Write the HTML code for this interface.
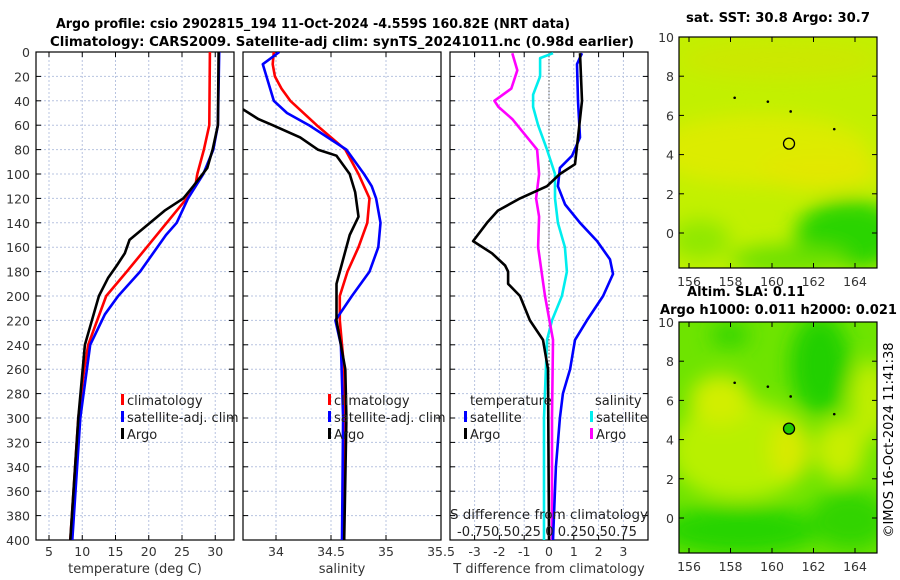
<!DOCTYPE html>
<html><head><meta charset="utf-8">
<style>
body{margin:0;background:#fff;}
svg{display:block;font-family:"DejaVu Sans","Liberation Sans",sans-serif;}
</style></head>
<body>
<svg id="c" width="900" height="580" viewBox="0 0 900 580" xmlns="http://www.w3.org/2000/svg">
<defs>
<filter id="blur" x="-50%" y="-50%" width="200%" height="200%"><feGaussianBlur stdDeviation="10"/></filter>
<clipPath id="m1c"><rect x="679" y="37" width="198" height="231"/></clipPath>
<clipPath id="m2c"><rect x="679" y="322" width="198" height="231"/></clipPath>
<clipPath id="p1c"><rect x="36" y="52" width="198" height="488"/></clipPath>
<clipPath id="p2c"><rect x="243" y="52" width="198" height="488"/></clipPath>
<clipPath id="p3c"><rect x="450" y="52" width="198" height="488"/></clipPath>
</defs>
<g font-weight="bold" font-size="13" text-anchor="start">
<text x="56" y="28" textLength="514" lengthAdjust="spacingAndGlyphs">Argo profile: csio 2902815_194 11-Oct-2024 -4.559S 160.82E (NRT data)</text>
<text x="50" y="46" textLength="584" lengthAdjust="spacingAndGlyphs">Climatology: CARS2009. Satellite-adj clim: synTS_20241011.nc (0.98d earlier)</text>
</g>
<g id="plots"></g>
<g id="maps">
<g clip-path="url(#m1c)">
<rect x="679" y="37" width="198" height="231" fill="#c2f000"/>
<g filter="url(#blur)">
<ellipse cx="760" cy="150" rx="110" ry="35" fill="#dcec00"/>
<ellipse cx="820" cy="170" rx="60" ry="20" fill="#e2e800"/>
<ellipse cx="850" cy="235" rx="55" ry="35" fill="#2cd400"/>
<ellipse cx="790" cy="260" rx="60" ry="15" fill="#6ce000"/>
<ellipse cx="700" cy="240" rx="30" ry="20" fill="#90e800"/>
<ellipse cx="780" cy="60" rx="100" ry="18" fill="#cce800"/>
</g>
</g>
<g clip-path="url(#m2c)">
<rect x="679" y="322" width="198" height="231" fill="#6ee400"/>
<g filter="url(#blur)">
<ellipse cx="740" cy="450" rx="70" ry="50" fill="#b8f000"/>
<ellipse cx="720" cy="400" rx="30" ry="25" fill="#d2ee00"/>
<ellipse cx="790" cy="450" rx="20" ry="30" fill="#d8ea00"/>
<ellipse cx="840" cy="450" rx="25" ry="30" fill="#c8ee00"/>
<ellipse cx="870" cy="400" rx="20" ry="40" fill="#c0ee00"/>
<ellipse cx="820" cy="365" rx="30" ry="50" fill="#20d000"/>
<ellipse cx="740" cy="530" rx="80" ry="25" fill="#28d400"/>
<ellipse cx="850" cy="520" rx="40" ry="30" fill="#30d400"/>
<ellipse cx="730" cy="335" rx="20" ry="12" fill="#30d400"/>
</g>
</g>
</g>
<g id="mapaxes"></g>
<g font-weight="bold" font-size="13" text-anchor="start">
<text x="686" y="22" textLength="184" lengthAdjust="spacingAndGlyphs">sat. SST: 30.8 Argo: 30.7</text>
<text x="687" y="296" textLength="118" lengthAdjust="spacingAndGlyphs">Altim. SLA: 0.11</text>
<text x="660" y="314" textLength="237" lengthAdjust="spacingAndGlyphs">Argo h1000: 0.011 h2000: 0.021</text>
</g>
<text x="893" y="440" font-size="13" text-anchor="middle" transform="rotate(-90 893 440)">©IMOS 16-Oct-2024 11:41:38</text>
</svg>
<script>
// ---- data ----
const depthTicks=[0,20,40,60,80,100,120,140,160,180,200,220,240,260,280,300,320,340,360,380,400];
const tTicks=[5,10,15,20,25,30];
const sTicks=[34,34.5,35,35.5];
const sTickLabels=["34","34.5","35","35.5"];
const dTicks=[-3,-2,-1,0,1,2,3];
const climTDepth=[0,60,80,100,110,120,140,160,180,200,240,260,300,400];
const climT=[29.2,29.1,28.3,27.3,27.0,25.7,22.7,19.7,16.7,13.6,10.9,10.3,9.4,8.2];
const satTDepth=[0,60,80,100,120,140,150,180,200,215,240,300,400];
const satT=[30.6,30.4,29.7,28.2,25.9,24.2,22.6,18.7,15.4,13.4,11.2,9.7,8.5];
const argoTDepth=[0,60,80,95,110,120,130,140,154,165,175,185,200,240,300,400];
const argoT=[30.5,30.4,29.6,28.8,26.7,25.2,22.4,20.2,17.1,16.4,15.2,13.9,12.5,10.4,9.4,8.2];
const climSDepth=[0,10,20,30,40,60,80,100,120,140,160,180,200,220,260,300,400];
const climS=[33.98,33.97,33.99,34.05,34.13,34.37,34.63,34.75,34.85,34.83,34.75,34.65,34.58,34.58,34.62,34.63,34.61];
const satSDepth=[0,10,40,50,60,80,100,110,120,140,160,180,200,220,240,300,400];
const satS=[34.03,33.88,33.98,34.1,34.3,34.64,34.8,34.87,34.91,34.95,34.93,34.85,34.69,34.54,34.59,34.61,34.6];
const argoSDepth=[47,55,60,70,80,85,100,115,135,150,180,190,200,220,260,300,400];
const argoS=[33.7,33.84,33.97,34.22,34.38,34.55,34.67,34.72,34.75,34.67,34.58,34.55,34.55,34.55,34.63,34.64,34.62];
const dSArgoDepth=[1,15,30,40,45,55,80,100,120,135,160,200,236,300,400];
const dSArgo=[-0.37,-0.32,-0.38,-0.55,-0.51,-0.37,-0.12,-0.10,-0.13,-0.10,-0.11,-0.04,0.04,0.03,0.03];
const dSSatDepth=[1,5,20,35,45,60,80,100,120,140,160,180,200,220,236,300,400];
const dSSat=[0.04,-0.09,-0.09,-0.16,-0.16,-0.11,-0.02,0.06,0.06,0.09,0.16,0.18,0.13,0.03,-0.02,-0.05,-0.05];
const dTSatDepth=[1,10,40,70,85,95,110,125,140,155,170,182,200,220,236,260,280,300,340,400];
const dTSat=[1.33,1.13,1.17,1.25,0.93,0.44,0.36,0.65,1.25,1.94,2.46,2.58,2.18,1.53,1.05,0.85,0.56,0.44,0.28,0.16];
const dTArgoDepth=[1,40,70,92,100,110,120,130,140,155,165,175,180,190,200,220,236,260,400];
const dTArgo=[1.25,1.33,1.17,1.05,0.44,-0.08,-1.17,-2.06,-2.5,-3.06,-2.3,-1.77,-1.65,-1.65,-1.17,-0.77,-0.24,-0.04,0];
const lonTicks=[156,158,160,162,164];
const latTicks=[0,2,4,6,8,10];
const argoLon=[160.82], argoLat=[4.56];
// ---- scales ----
const NS="http://www.w3.org/2000/svg";
const TOP=52,BOT=540;
const yD=d=>TOP+d*1.22;
const xT=v=>49+(v-5)*6.65;
const xS=v=>276+(v-34)*110;
const xDT=v=>549+v*24.8;
const xDS=v=>549+v/0.25*24.8;
const mx=l=>689+(l-156)*20.75;
const my1=l=>233-l*19.6, my2=l=>518-l*19.6;
function el(tag,attrs,parent,text){const e=document.createElementNS(NS,tag);for(const k in attrs)e.setAttribute(k,attrs[k]);if(text!==undefined)e.textContent=text;parent.appendChild(e);return e;}
const plots=document.getElementById('plots');
const panels=[{x:36,ticks:tTicks,labels:tTicks.map(String),fx:xT,xl:'temperature (deg C)',name:'temperature-panel'},
{x:243,ticks:sTicks,labels:sTickLabels,fx:xS,xl:'salinity',name:'salinity-panel'},
{x:450,ticks:dTicks,labels:dTicks.map(String),fx:xDT,xl:'T difference from climatology',name:'difference-panel'}];
panels.forEach((p,i)=>{
 const g=el('g',{},plots);
 
 
 depthTicks.forEach(d=>{
  const l=el('line',{x1:p.x,x2:p.x+198,y1:yD(d),y2:yD(d),stroke:'#b8c4e0','stroke-dasharray':'2,2','stroke-width':1},g);
  
  
  el('line',{x1:p.x,x2:p.x+5,y1:yD(d),y2:yD(d),stroke:'#000'},g);
  el('line',{x1:p.x+193,x2:p.x+198,y1:yD(d),y2:yD(d),stroke:'#000'},g);
 });
 p.ticks.forEach((t,k)=>{
  const x=p.fx(t);
  if(x<p.x+197){const l=el('line',{x1:x,x2:x,y1:TOP,y2:BOT,stroke:'#b8c4e0','stroke-dasharray':'2,2'},g);
  
  
  el('line',{x1:x,x2:x,y1:BOT,y2:BOT-5,stroke:'#000'},g);el('line',{x1:x,x2:x,y1:TOP,y2:TOP+5,stroke:'#000'},g);}
  const tx=el('text',{x:x,y:556,'font-size':12.5,'text-anchor':'middle',fill:'#333'},g,p.labels[k]);
  
  
 });
 const xl=el('text',{x:p.x+99,y:573,'font-size':13,'text-anchor':'middle',fill:'#333'},g,p.xl);
 
 
 el('rect',{x:p.x,y:TOP,width:198,height:BOT-TOP,fill:'none',stroke:'#000','stroke-width':1.2},g);
});
depthTicks.forEach(d=>{
 const t=el('text',{x:30,y:yD(d)+5,'font-size':12.5,'text-anchor':'end',fill:'#333'},plots,String(d));
 
 
});
function line(depths,vals,fx,color,clip,name){
 const pts=depths.map((d,i)=>fx(vals[i]).toFixed(1)+','+yD(d).toFixed(1)).join(' ');
 const pl=el('polyline',{points:pts,fill:'none',stroke:color,'stroke-width':2.6,'stroke-linejoin':'round','clip-path':'url(#'+clip+')'},plots);
 
 
}
el('line',{x1:549,x2:549,y1:TOP,y2:BOT,stroke:'#555','stroke-dasharray':'1.5,2','stroke-width':1},plots);
line(climTDepth,climT,xT,'#ff0000','p1c','climatology-temperature-line');
line(satTDepth,satT,xT,'#0000ff','p1c','satellite-temperature-line');
line(argoTDepth,argoT,xT,'#000','p1c','argo-temperature-line');
line(climSDepth,climS,xS,'#ff0000','p2c','climatology-salinity-line');
line(satSDepth,satS,xS,'#0000ff','p2c','satellite-salinity-line');
line(argoSDepth,argoS,xS,'#000','p2c','argo-salinity-line');
line(dSSatDepth,dSSat,xDS,'#00eeee','p3c','satellite-salinity-diff-line');
line(dSArgoDepth,dSArgo,xDS,'#ff00ff','p3c','argo-salinity-diff-line');
line(dTSatDepth,dTSat,xDT,'#0000ff','p3c','satellite-temperature-diff-line');
line(dTArgoDepth,dTArgo,xDT,'#000','p3c','argo-temperature-diff-line');
function legend(x,y,color,label){
 const g=el('g',{},plots);
 
 
 el('rect',{x:x,y:y-11,width:3,height:11,fill:color},g);
 el('text',{x:x+6,y:y,'font-size':13,fill:'#222'},g,label);
}
legend(121,405,'#ff0000','climatology');legend(121,422,'#0000ff','satellite-adj. clim');legend(121,439,'#000','Argo');
legend(328,405,'#ff0000','climatology');legend(328,422,'#0000ff','satellite-adj. clim');legend(328,439,'#000','Argo');
el('text',{x:470,y:405,'font-size':13,fill:'#222'},plots,'temperature');
el('text',{x:595,y:405,'font-size':13,fill:'#222'},plots,'salinity');
legend(464,422,'#0000ff','satellite');legend(464,439,'#000','Argo');
legend(590,422,'#00eeee','satellite');legend(590,439,'#ff00ff','Argo');
const sdl=el('text',{x:450,y:519,'font-size':13,fill:'#222',textLength:198,lengthAdjust:'spacingAndGlyphs'},plots,'S difference from climatology');


el('text',{x:457,y:536,'font-size':13,fill:'#222',textLength:180,lengthAdjust:'spacingAndGlyphs'},plots,'-0.750.50.25 0 0.250.50.75');
const ma=document.getElementById('mapaxes');
[[37,my1],[322,my2]].forEach(([top,fy],mi)=>{
 const g=el('g',{},ma);
 
 
 el('rect',{x:679,y:top,width:198,height:231,fill:'none',stroke:'#000','stroke-width':1.2},g);
 lonTicks.forEach(l=>{const x=mx(l);el('line',{x1:x,x2:x,y1:top+231,y2:top+226,stroke:'#000'},g);el('line',{x1:x,x2:x,y1:top,y2:top+5,stroke:'#000'},g);
  el('text',{x:x,y:top+249,'font-size':12.5,'text-anchor':'middle',fill:'#333'},g,String(l));});
 latTicks.forEach(l=>{const y=fy(l);el('line',{x1:679,x2:684,y1:y,y2:y,stroke:'#000'},g);el('line',{x1:872,x2:877,y1:y,y2:y,stroke:'#000'},g);
  el('text',{x:674,y:y+5,'font-size':12.5,'text-anchor':'end',fill:'#333'},g,String(l));});
 [[158.2,6.9],[160.9,6.2],[163,5.3],[159.8,6.7]].forEach(([lo,la])=>el('circle',{cx:mx(lo),cy:fy(la),r:1.3,fill:'#000'},g));
 const c=el('circle',{cx:mx(argoLon[0]),cy:fy(argoLat[0]),r:5.5,fill:mi?'#20c800':'none',stroke:'#000','stroke-width':1.3},g);
 
 
});
</script>
</body></html>
